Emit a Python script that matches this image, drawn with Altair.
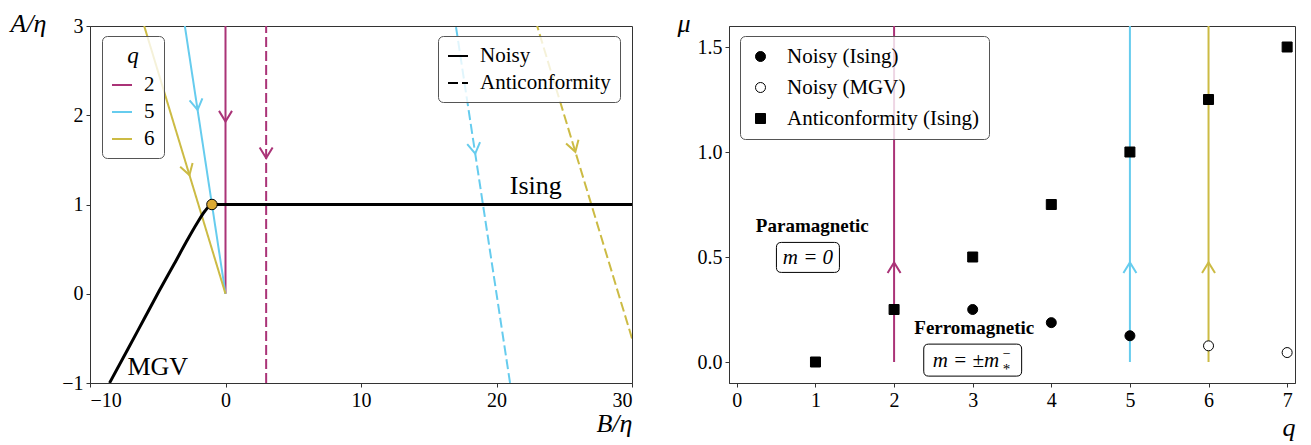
import math
import altair as alt
import pandas as pd

FONT = "Liberation Serif"

# ---------------- left panel data (B/eta, A/eta) ----------------
q_levels = ["2", "5", "6"]
q_colors = ["#AA3377", "#66CCEE", "#CCBB44"]
line_types = ["Noisy", "Anticonformity"]

# MGV / Ising boundary
boundary_B = [-8.56, -7.2, -6.0, -4.9, -3.8, -2.9, -2.1, -1.5, -1.0, 30.0]
boundary_A = [-1.0, -0.62, -0.28, 0.03, 0.33, 0.58, 0.79, 0.93, 1.0, 1.0]

# flow lines: pairs of end points
flow_q = ["2", "2", "5", "5", "6", "6", "2", "2", "5", "5", "6", "6"]
flow_type = ["Noisy"] * 6 + ["Anticonformity"] * 6
flow_B = [0, 0, 0, -3, 0, -6, 3, 3, 21, 17, 30, 23]
flow_A = [0, 3, 0, 3, 0, 3, -1, 3, -1, 3, -0.5, 3]

# arrow heads on flow lines
arrow_q = ["2", "5", "6", "2", "5", "6"]
arrow_type = ["Noisy"] * 3 + ["Anticonformity"] * 3
arrow_B = [0, -2.06, -2.66, 3, 18.43, 25.82]
arrow_A = [1.93, 2.06, 1.33, 1.52, 1.57, 1.59]

# tricritical point
tri_B = [-1.0]
tri_A = [1.0]

region_labels = ["Ising", "MGV"]
region_B = [22.9, -5.0]
region_A = [1.12, -0.91]

# ---------------- right panel data (q, mu) ----------------
series_names = ["Noisy (Ising)", "Noisy (MGV)", "Anticonformity (Ising)"]
ising_q = [3, 4, 5]
ising_mu = [0.25, 0.1875, 0.125]
mgv_q = [6, 7]
mgv_mu = [0.077, 0.045]
anti_q = [1, 2, 3, 4, 5, 6, 7]
anti_mu = [0.0, 0.25, 0.5, 0.75, 1.0, 1.25, 1.5]

vline_q = [2, 5, 6]
vline_label = ["2", "5", "6"]
vline_mu0 = [0.0, 0.0, 0.0]
vline_mu1 = [1.6, 1.6, 1.6]
varrow_mu = [0.474, 0.474, 0.474]

phase_names = ["Paramagnetic", "Ferromagnetic"]
phase_q = [0.96, 3.02]
phase_mu = [0.617, 0.132]
box_q = [0.904, 3.0]
box_mu = [0.498, 0.009]

# ---------------- layout / style ----------------
W1, H1 = 542, 357
W2, H2 = 566, 357
B_dom, A_dom = [-10, 30], [-1, 3]
q_dom, mu_dom = [-0.1, 7.1], [-0.1, 1.6]
px_B = W1 / (B_dom[1] - B_dom[0])
px_A = H1 / (A_dom[1] - A_dom[0])
color_of = dict(zip(q_levels, q_colors))

CHEVRON = "M -0.55 -0.9 L 0 0 L 0.55 -0.9"


def rounded_box(hw, hh, r):
    return (f"M {-hw + r} {-hh} L {hw - r} {-hh} Q {hw} {-hh} {hw} {-hh + r} "
            f"L {hw} {hh - r} Q {hw} {hh} {hw - r} {hh} L {-hw + r} {hh} "
            f"Q {-hw} {hh} {-hw} {hh - r} L {-hw} {-hh + r} Q {-hw} {-hh} {-hw + r} {-hh} Z")


# ---------------- left panel ----------------
flow_df = pd.DataFrame({"B": flow_B, "A": flow_A, "q": flow_q, "type": flow_type})
flow_df["seg"] = flow_df["q"] + "-" + flow_df["type"]
flow_df["ord"] = range(len(flow_df))

# arrow orientation from the direction of its segment (downwards)
angles = []
for q, t in zip(arrow_q, arrow_type):
    seg = flow_df[(flow_df.q == q) & (flow_df.type == t)].sort_values("A", ascending=False)
    b0, a0 = seg.iloc[0]["B"], seg.iloc[0]["A"]
    b1, a1 = seg.iloc[1]["B"], seg.iloc[1]["A"]
    dx = (b1 - b0) * px_B
    dy = -(a1 - a0) * px_A
    angles.append(math.degrees(math.atan2(-dx, dy)) % 360)
arrow_df = pd.DataFrame({"B": arrow_B, "A": arrow_A, "q": arrow_q, "ang": angles})
arrow_df["col"] = arrow_df["q"].map(color_of)

boundary_df = pd.DataFrame({"B": boundary_B, "A": boundary_A})
tri_df = pd.DataFrame({"B": tri_B, "A": tri_A})
region_df = pd.DataFrame({"B": region_B, "A": region_A, "label": region_labels})

legend_common = dict(
    orient="none", fillColor="rgba(255,255,255,0.8)", strokeColor="#555555",
    cornerRadius=5, padding=9, labelFont=FONT, labelFontSize=21, labelColor="black",
    symbolType="stroke", symbolSize=400, symbolStrokeWidth=2, rowPadding=6, labelOffset=11,
    labelLimit=400,
)

xB = alt.X("B:Q", scale=alt.Scale(domain=B_dom, nice=False, zero=False),
           axis=alt.Axis(values=[-10, 0, 10, 20, 30], title="B/η", titleX=W1, titleY=48,
                         titleAlign="right", titleBaseline="alphabetic"))
yA = alt.Y("A:Q", scale=alt.Scale(domain=A_dom, nice=False, zero=False),
           axis=alt.Axis(values=[-1, 0, 1, 2, 3], title="A/η", titleAngle=0, titleX=-80,
                         titleY=5, titleAlign="left", titleBaseline="alphabetic"))

flows = alt.Chart(flow_df).mark_line(strokeWidth=2, clip=True).encode(
    x=xB, y=yA,
    color=alt.Color("q:N", scale=alt.Scale(domain=q_levels, range=q_colors),
                    legend=alt.Legend(title="q", titleFont=FONT, titleFontSize=23,
                                      titleFontStyle="italic", titleFontWeight="normal",
                                      titleAnchor="middle", titlePadding=6,
                                      legendX=12, legendY=10, **legend_common)),
    strokeDash=alt.StrokeDash("type:N", scale=alt.Scale(domain=line_types, range=[[1, 0], [10, 4]]),
                              legend=alt.Legend(title=None, legendX=348, legendY=10,
                                                symbolStrokeColor="black", **legend_common)),
    detail="seg:N",
    order="ord:Q",
)

arrows = alt.Chart(arrow_df).mark_point(shape=CHEVRON, size=557, filled=False, strokeWidth=2,
                                        opacity=1).encode(
    x=xB, y=yA,
    stroke=alt.Stroke("col:N", scale=None),
    angle=alt.Angle("ang:Q", scale=None),
)

boundary = alt.Chart(boundary_df).mark_line(color="black", strokeWidth=3, interpolate="monotone",
                                            clip=True).encode(x=xB, y=yA)

tri = alt.Chart(tri_df).mark_point(filled=True, fill="#DDAA33", stroke="black", strokeWidth=1,
                                   size=110, opacity=1).encode(x=xB, y=yA)

regions = alt.Chart(region_df).mark_text(font=FONT, fontSize=26, baseline="alphabetic",
                                         align="center", color="black").encode(
    x=xB, y=yA, text="label:N")

left = alt.layer(flows, arrows, boundary, tri, regions).properties(width=W1, height=H1)

# ---------------- right panel ----------------
pts_df = pd.DataFrame({
    "q": ising_q + mgv_q + anti_q,
    "mu": ising_mu + mgv_mu + anti_mu,
    "series": [series_names[0]] * len(ising_q) + [series_names[1]] * len(mgv_q)
    + [series_names[2]] * len(anti_q),
})
vline_df = pd.DataFrame({"q": vline_q, "mu": vline_mu0, "mu1": vline_mu1, "lab": vline_label})
vline_df["col"] = vline_df["lab"].map(color_of)
arrow2_df = pd.DataFrame({"q": vline_q, "mu": varrow_mu, "lab": vline_label})
arrow2_df["col"] = arrow2_df["lab"].map(color_of)
phase_df = pd.DataFrame({"q": phase_q, "mu": phase_mu, "name": phase_names})

xq = alt.X("q:Q", scale=alt.Scale(domain=q_dom, nice=False, zero=False),
           axis=alt.Axis(values=[0, 1, 2, 3, 4, 5, 6, 7], title="q", titleX=W2, titleY=52,
                         titleAlign="right", titleBaseline="alphabetic"))
ymu = alt.Y("mu:Q", scale=alt.Scale(domain=mu_dom, nice=False, zero=False),
            axis=alt.Axis(values=[0, 0.5, 1.0, 1.5], format=".1f", title="μ", titleAngle=0,
                          titleX=-52, titleY=5, titleAlign="left", titleBaseline="alphabetic"))

vlines = alt.Chart(vline_df).mark_rule(strokeWidth=2, clip=True).encode(
    x=xq, y=ymu, y2="mu1:Q", stroke=alt.Stroke("col:N", scale=None))

varrows = alt.Chart(arrow2_df).mark_point(shape=CHEVRON, size=557, filled=False, strokeWidth=2,
                                          opacity=1, angle=180).encode(
    x=xq, y=ymu, stroke=alt.Stroke("col:N", scale=None))

pt_legend = dict(title=None, orient="none", legendX=11, legendY=10,
                 fillColor="rgba(255,255,255,0.8)", strokeColor="#555555",
                 cornerRadius=5, padding=10, labelFont=FONT, labelFontSize=21,
                 labelColor="black", symbolSize=100, symbolStrokeColor="black",
                 symbolStrokeWidth=1, rowPadding=9, labelOffset=16, labelLimit=400)

pts = alt.Chart(pts_df).mark_point(filled=True, strokeWidth=1, size=100, opacity=1).encode(
    x=xq, y=ymu,
    shape=alt.Shape("series:N", scale=alt.Scale(domain=series_names,
                                                range=["circle", "circle", "square"]),
                    legend=alt.Legend(**pt_legend)),
    fill=alt.Fill("series:N", scale=alt.Scale(domain=series_names,
                                              range=["black", "white", "black"]),
                  legend=alt.Legend(**pt_legend)),
    stroke=alt.Stroke("series:N", scale=alt.Scale(domain=series_names,
                                                  range=["black", "black", "black"]),
                      legend=alt.Legend(**pt_legend)),
)

phase_text = alt.Chart(phase_df).mark_text(font=FONT, fontSize=19, fontWeight="bold",
                                           baseline="alphabetic", align="center",
                                           color="black").encode(
    x=xq, y=ymu, text="name:N")

box1_df = pd.DataFrame({"q": [box_q[0]], "mu": [box_mu[0]]})
box2_df = pd.DataFrame({"q": [box_q[1]], "mu": [box_mu[1]]})

box1 = alt.Chart(box1_df).mark_point(shape=rounded_box(2.1, 1.0, 0.33), size=900, filled=False,
                                     stroke="black", strokeWidth=1, opacity=1).encode(x=xq, y=ymu)
box2 = alt.Chart(box2_df).mark_point(shape=rounded_box(3.06, 1.0, 0.31), size=1024, filled=False,
                                     stroke="black", strokeWidth=1, opacity=1).encode(x=xq, y=ymu)

box1_text = alt.Chart(box1_df).mark_text(font=FONT, fontSize=21, fontStyle="italic",
                                         baseline="middle", align="center", dy=1,
                                         color="black", text="m = 0").encode(x=xq, y=ymu)
box2_main = alt.Chart(box2_df).mark_text(font=FONT, fontSize=21, fontStyle="italic",
                                         baseline="middle", align="left", dx=-40, dy=1,
                                         color="black", text="m = ±m").encode(x=xq, y=ymu)
box2_sup = alt.Chart(box2_df).mark_text(font=FONT, fontSize=14, baseline="middle", align="left",
                                        dx=30, dy=-6, color="black", text="−").encode(x=xq, y=ymu)
box2_sub = alt.Chart(box2_df).mark_text(font=FONT, fontSize=15, baseline="middle", align="left",
                                        dx=30, dy=9, color="black", text="*").encode(x=xq, y=ymu)

right = alt.layer(vlines, varrows, pts, phase_text, box1, box2, box1_text, box2_main,
                  box2_sup, box2_sub).properties(width=W2, height=H2)

chart = alt.hconcat(left, right, spacing=97, bounds="flush").resolve_scale(
    color="independent", strokeDash="independent", shape="independent", fill="independent",
    stroke="independent", x="independent", y="independent"
).resolve_legend(
    color="independent", strokeDash="independent", shape="independent", fill="independent",
    stroke="independent"
).properties(
    padding={"left": 1, "top": 1, "right": 5, "bottom": 2}
).configure(font=FONT).configure_view(
    stroke="#333333", strokeWidth=1
).configure_axis(
    grid=False, domainColor="#333333", domainWidth=1, tickColor="#333333", tickWidth=1,
    tickSize=4, labelFont=FONT, labelFontSize=20, labelColor="black", labelPadding=3,
    titleFont=FONT, titleFontSize=26, titleFontStyle="italic", titleFontWeight="normal",
    titleColor="black"
)

chart.save("out.html", embed_options={"renderer": "svg", "actions": False})
